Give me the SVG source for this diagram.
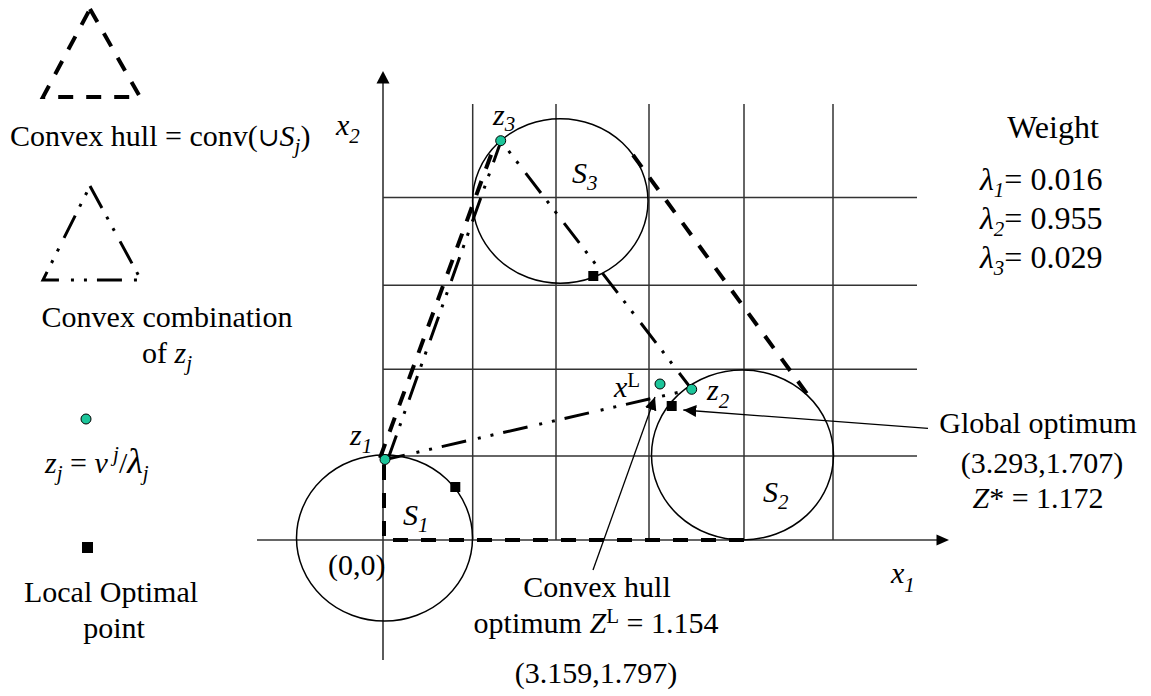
<svg xmlns="http://www.w3.org/2000/svg" width="1151" height="696" viewBox="0 0 1151 696">
<defs>
<style>
text{font-family:"Liberation Serif","Times New Roman",serif;font-size:30px;fill:#000}
.i{font-style:italic}
.s{font-size:21px}
.grid{stroke:#333;stroke-width:1.5;fill:none}
.axis{stroke:#333;stroke-width:1.6;fill:none}
.circ{stroke:#000;stroke-width:1.5;fill:none}
.hull{stroke:#000;stroke-width:4;fill:none;stroke-dasharray:15 13}
.comb{stroke:#000;stroke-width:3;fill:none;stroke-dasharray:25 10 3 10 3 12}
.dot{fill:#1cc59a;stroke:#000;stroke-width:1}
.sq{fill:#000}
.ann{stroke:#000;stroke-width:1.3;fill:none;marker-end:url(#ah)}
.w{font-size:32px}
</style>
<marker id="ah" markerUnits="userSpaceOnUse" markerWidth="14" markerHeight="12" refX="13" refY="6" orient="auto">
<path d="M0,0 L13,6 L0,12 Z" fill="#000"/>
</marker>
</defs>
<rect width="1151" height="696" fill="#fff"/>

<g id="legend">
<polygon class="hull" points="90,9 140,97 43,97"/>
<text x="10" y="146">Convex hull = conv(<tspan font-family="DejaVu Serif, serif" font-size="26">∪</tspan><tspan class="i">S</tspan><tspan class="s i" dy="7">j</tspan><tspan dy="-7">)</tspan></text>
<polygon class="comb" points="90,186 141,280 43,280"/>
<text x="167" y="327" text-anchor="middle">Convex combination</text>
<text x="167" y="363" text-anchor="middle">of <tspan class="i">z</tspan><tspan class="s i" dy="7">j</tspan></text>
<circle class="dot" cx="86" cy="419" r="5"/>
<text x="45" y="473"><tspan class="i">z</tspan><tspan class="s i" dy="7">j</tspan><tspan dy="-7"> = </tspan><tspan class="i">v</tspan><tspan class="s i" dy="-12"> j</tspan><tspan dy="12">/</tspan><tspan class="i" font-size="36">λ</tspan><tspan class="s i" dy="7">j</tspan></text>
<rect class="sq" x="82" y="542" width="11" height="11"/>
<text x="111" y="602" text-anchor="middle">Local Optimal</text>
<text x="114" y="638" text-anchor="middle">point</text>
</g>

<g id="grid">
<line class="grid" x1="472.7" y1="104" x2="472.7" y2="540"/>
<line class="grid" x1="556" y1="104" x2="556" y2="540"/>
<line class="grid" x1="649" y1="104" x2="649" y2="540"/>
<line class="grid" x1="744" y1="104" x2="744" y2="540"/>
<line class="grid" x1="833" y1="104" x2="833" y2="540"/>
<line class="grid" x1="383" y1="197.5" x2="917" y2="197.5"/>
<line class="grid" x1="383" y1="285.3" x2="917" y2="285.3"/>
<line class="grid" x1="383" y1="369.3" x2="917" y2="369.3"/>
<line class="grid" x1="383" y1="456" x2="917" y2="456"/>
</g>

<g id="axes">
<line class="axis" x1="383" y1="82" x2="383" y2="660"/>
<polygon points="383,71 389.5,83.5 376.5,83.5" fill="#000"/>
<line class="axis" x1="257" y1="540" x2="938" y2="540"/>
<polygon points="949,540 936.5,534.5 936.5,545.5" fill="#000"/>
<text x="336" y="135" class="i">x<tspan class="s" dy="8">2</tspan></text>
<text x="891" y="583" class="i">x<tspan class="s" dy="9">1</tspan></text>
<text x="328" y="575" font-size="28">(0,0)</text>
</g>

<g id="S1">
<ellipse class="circ" cx="384.5" cy="538" rx="88" ry="83"/>
<text x="403" y="525" class="i">S<tspan class="s" dy="7">1</tspan></text>
</g>
<g id="S2">
<ellipse class="circ" cx="742.5" cy="455" rx="91" ry="85"/>
<text x="763" y="502" class="i">S<tspan class="s" dy="7">2</tspan></text>
</g>
<g id="S3">
<ellipse class="circ" cx="560.3" cy="201" rx="87.7" ry="82.3"/>
<text x="572" y="183" class="i">S<tspan class="s" dy="7">3</tspan></text>
</g>

<g id="connectors">
<polyline class="hull" points="744,540 384,540 384,459"/>
<line class="hull" x1="380" y1="458" x2="495" y2="144"/>
<line class="hull" x1="633" y1="155" x2="813" y2="402"/>
<polygon class="comb" points="388,459 501,141 691.7,389.3"/>
<line class="ann" x1="928" y1="428.3" x2="683.3" y2="410"/>
<line class="ann" x1="593" y1="570" x2="655" y2="397"/>
</g>

<g id="z1">
<circle class="dot" cx="385" cy="459.5" r="5"/>
<text x="350" y="445" class="i">z<tspan class="s" dy="8">1</tspan></text>
</g>
<g id="z2">
<circle class="dot" cx="691.7" cy="389.3" r="5"/>
<text x="707" y="400" class="i">z<tspan class="s" dy="8">2</tspan></text>
</g>
<g id="z3">
<circle class="dot" cx="500.7" cy="140.7" r="5"/>
<text x="493" y="125" class="i">z<tspan class="s" dy="6">3</tspan></text>
</g>
<g id="xL">
<circle class="dot" cx="660" cy="384" r="5"/>
<text x="614" y="397"><tspan class="i">x</tspan><tspan class="s" dy="-10">L</tspan></text>
</g>

<g id="local-optima">
<rect class="sq" x="588.3" y="271" width="10" height="10"/>
<rect class="sq" x="450.3" y="482" width="10" height="10"/>
<rect class="sq" x="666.7" y="401" width="10" height="10"/>
</g>

<g id="convex-hull-optimum">
<text x="597" y="597" text-anchor="middle">Convex hull</text>
<text x="596" y="633" text-anchor="middle">optimum <tspan class="i">Z</tspan><tspan class="s" dy="-10">L</tspan><tspan dy="10"> = 1.154</tspan></text>
<text x="596" y="683" text-anchor="middle">(3.159,1.797)</text>
</g>

<g id="global-optimum">
<text x="1038" y="433" text-anchor="middle">Global optimum</text>
<text x="1042" y="473" text-anchor="middle">(3.293,1.707)</text>
<text x="1038" y="508" text-anchor="middle"><tspan class="i">Z</tspan>* = 1.172</text>
</g>

<g id="weights">
<text class="w" x="1053" y="138" text-anchor="middle">Weight</text>
<text class="w" x="980" y="190"><tspan class="i">λ</tspan><tspan class="s i" dy="7">1</tspan><tspan dy="-7">= 0.016</tspan></text>
<text class="w" x="980" y="229"><tspan class="i">λ</tspan><tspan class="s i" dy="7">2</tspan><tspan dy="-7">= 0.955</tspan></text>
<text class="w" x="980" y="268"><tspan class="i">λ</tspan><tspan class="s i" dy="7">3</tspan><tspan dy="-7">= 0.029</tspan></text>
</g>
</svg>
